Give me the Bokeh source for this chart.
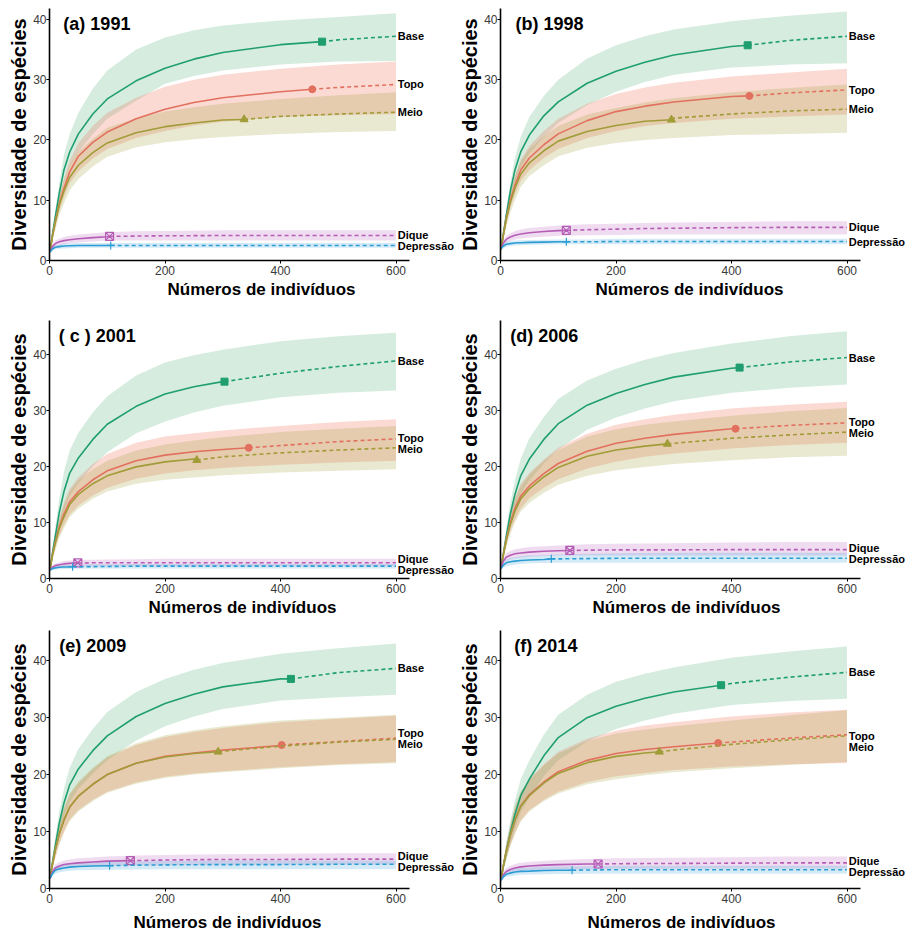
import numpy as np
from bokeh.plotting import figure
from bokeh.layouts import column, row
from bokeh.models import Range1d, Label, FixedTicker, Title
from bokeh.embed import file_html
from bokeh.resources import INLINE

# ---------------- data ----------------
X = [1, 5, 10, 17, 25, 35, 50, 75, 100, 150, 200, 250, 300, 400, 500, 600]
names = ["Base", "Topo", "Meio", "Dique", "Depressão"]
titles = ["(a) 1991", "(b) 1998", "( c ) 2001", "(d) 2006", "(e) 2009", "(f) 2014"]
x_ticks = [0, 200, 400, 600]
y_ticks = [0, 10, 20, 30, 40]

# (a) 1991  -- observed sample size / richness, in the order of names
a_obs_n = [472, 455, 337, 104, 106]
a_obs_s = [36.3, 28.4, 23.4, 4.0, 2.5]
a_base = [1.5, 4.3, 7.2, 11.2, 15, 18, 21, 24.3, 26.8, 29.8, 31.9, 33.4, 34.5, 35.8, 36.6, 37.2]
a_base_lo = [1.3, 3.8, 6.3, 9.6, 13, 15.6, 18, 21, 23.5, 26.5, 29.3, 30.6, 31.5, 32.5, 33, 33.1]
a_base_hi = [1.8, 4.9, 8.3, 12.8, 17.5, 21, 24.5, 28.5, 31.5, 35, 37, 38.2, 39, 39.8, 40.4, 41]
a_topo = [1.5, 4, 6.5, 9.5, 12, 14.7, 17.3, 19.6, 21.3, 23.5, 25.1, 26.2, 27, 28, 28.7, 29.2]
a_topo_lo = [1.3, 3.4, 5.5, 8.2, 10.5, 12.8, 14.8, 16.9, 18.5, 20.3, 21.5, 22.4, 23, 23.8, 24.1, 24.3]
a_topo_hi = [1.8, 4.6, 7.5, 10.8, 13.5, 16.6, 19.5, 22.3, 24.5, 27, 28.8, 30, 30.8, 31.8, 32.5, 33]
a_meio = [1.5, 4, 6.3, 9.2, 11.5, 13.8, 15.8, 17.9, 19.5, 21.2, 22.2, 22.8, 23.3, 23.9, 24.3, 24.6]
a_meio_lo = [1.2, 3.2, 5, 7.5, 9.5, 11.6, 13.5, 15.6, 17.2, 18.8, 19.6, 20.1, 20.5, 21, 21.3, 21.5]
a_meio_hi = [1.8, 4.7, 7.5, 10.7, 13.3, 15.8, 18, 20.2, 22, 23.6, 24.7, 25.4, 26, 26.8, 27.4, 27.9]
a_dique = [1.5, 2.3, 2.8, 3.1, 3.3, 3.45, 3.6, 3.8, 3.95, 4.05, 4.1, 4.12, 4.15, 4.15, 4.15, 4.15]
a_dique_lo = [1.3, 1.9, 2.3, 2.5, 2.7, 2.85, 3.0, 3.15, 3.3, 3.3, 3.3, 3.3, 3.3, 3.3, 3.3, 3.3]
a_dique_hi = [1.7, 2.7, 3.3, 3.6, 3.9, 4.1, 4.3, 4.5, 4.7, 4.85, 4.9, 4.95, 5.0, 5.0, 5.0, 5.0]
a_dep = [1.4, 1.9, 2.2, 2.3, 2.4, 2.45, 2.5, 2.5, 2.5, 2.5, 2.5, 2.5, 2.5, 2.5, 2.5, 2.5]
a_dep_lo = [1.2, 1.6, 1.9, 1.95, 2.0, 2.05, 2.1, 2.1, 2.1, 2.1, 2.1, 2.1, 2.1, 2.1, 2.1, 2.1]
a_dep_hi = [1.6, 2.2, 2.5, 2.65, 2.8, 2.85, 2.9, 2.9, 2.9, 2.9, 2.9, 2.9, 2.9, 2.9, 2.9, 2.9]

# (b) 1998
b_obs_n = [428, 431, 296, 114, 114]
b_obs_s = [35.7, 27.3, 23.35, 5.0, 3.1]
b_base = [1.8, 4.5, 7.5, 11.5, 15, 18, 20.8, 24, 26.3, 29.4, 31.4, 32.9, 34.1, 35.5, 36.5, 37.2]
b_base_lo = [1.5, 4, 6.5, 9.8, 13, 15.5, 17.8, 20.5, 22.8, 25.8, 28, 29.6, 30.8, 32, 32.5, 32.7]
b_base_hi = [2.1, 5.2, 8.5, 12.8, 17, 20.5, 23.8, 27.3, 30, 33.5, 35.7, 37.2, 38.3, 39.7, 40.6, 41.3]
b_topo = [1.8, 4.3, 7, 10, 12.5, 15, 17, 19.2, 21, 23.2, 24.7, 25.6, 26.3, 27.2, 27.8, 28.3]
b_topo_lo = [1.5, 3.7, 6, 8.8, 11, 13.2, 15, 17, 18.5, 20.3, 21.5, 22.3, 22.8, 23.5, 23.9, 24.2]
b_topo_hi = [2.1, 5, 8, 11.3, 14, 16.7, 19, 21.5, 23.5, 26, 27.6, 28.7, 29.5, 30.5, 31.2, 31.8]
b_meio = [1.8, 4.2, 6.8, 9.6, 12, 14.3, 16.2, 18.2, 19.8, 21.4, 22.4, 23.1, 23.6, 24.3, 24.8, 25.1]
b_meio_lo = [1.5, 3.4, 5.5, 7.9, 10, 12.2, 14, 15.8, 17.3, 18.7, 19.5, 20, 20.3, 20.8, 21, 21.2]
b_meio_hi = [2.1, 5, 8, 11.2, 14, 16.4, 18.5, 20.6, 22.3, 24.2, 25.3, 26.2, 26.9, 27.9, 28.6, 29.2]
b_dique = [2, 2.9, 3.5, 3.9, 4.2, 4.4, 4.6, 4.8, 4.95, 5.1, 5.2, 5.3, 5.35, 5.45, 5.5, 5.5]
b_dique_lo = [1.7, 2.4, 2.9, 3.2, 3.5, 3.65, 3.8, 3.95, 4.1, 4.2, 4.25, 4.3, 4.3, 4.3, 4.3, 4.3]
b_dique_hi = [2.3, 3.4, 4.1, 4.5, 4.9, 5.15, 5.4, 5.6, 5.8, 6.0, 6.1, 6.2, 6.3, 6.4, 6.5, 6.5]
b_dep = [2, 2.4, 2.7, 2.8, 2.9, 2.95, 3.0, 3.05, 3.1, 3.1, 3.15, 3.15, 3.15, 3.15, 3.15, 3.15]
b_dep_lo = [1.7, 2.0, 2.3, 2.4, 2.5, 2.55, 2.6, 2.65, 2.7, 2.7, 2.7, 2.7, 2.7, 2.7, 2.7, 2.7]
b_dep_hi = [2.3, 2.8, 3.1, 3.2, 3.3, 3.35, 3.4, 3.45, 3.5, 3.5, 3.6, 3.6, 3.6, 3.6, 3.6, 3.6]

# (c) 2001
c_obs_n = [303, 345, 255, 49, 40]
c_obs_s = [35.1, 23.3, 21.1, 2.8, 2.1]
c_base = [1.7, 4.5, 7.5, 11.8, 15.5, 18.8, 21.5, 24.8, 27.5, 30.7, 32.9, 34.2, 35.1, 36.6, 37.8, 38.8]
c_base_lo = [1.4, 3.7, 6, 9.2, 12, 14.8, 17, 20, 22.5, 25.9, 28, 29.6, 30.8, 32.3, 33.1, 33.5]
c_base_hi = [2, 5.3, 9, 14.2, 19, 22.8, 26, 29.6, 32.5, 36.2, 38.5, 39.8, 40.8, 42.3, 43.2, 43.8]
c_topo = [1.7, 4.2, 6.5, 9.3, 11.5, 13.7, 15.5, 17.6, 19.2, 21, 22, 22.6, 23, 23.7, 24.4, 24.9]
c_topo_lo = [1.4, 3.5, 5.5, 7.7, 9.5, 11.4, 13, 14.8, 16.2, 17.8, 18.7, 19.3, 19.7, 20.3, 20.7, 21]
c_topo_hi = [2, 4.8, 7.5, 10.8, 13.5, 16, 18, 20.4, 22.2, 24.2, 25.3, 25.9, 26.4, 27.2, 27.9, 28.4]
c_meio = [1.7, 4, 6.3, 8.9, 11, 13.2, 15, 16.9, 18.3, 19.9, 20.8, 21.3, 21.7, 22.4, 22.9, 23.3]
c_meio_lo = [1.4, 3.2, 5, 7.2, 9, 10.9, 12.5, 14.2, 15.5, 16.9, 17.6, 18, 18.4, 18.9, 19.2, 19.5]
c_meio_hi = [2, 4.8, 7.5, 10.5, 13, 15.5, 17.5, 19.5, 21, 22.8, 23.9, 24.6, 25.2, 26.1, 26.7, 27.2]
c_dique = [1.5, 2.0, 2.3, 2.45, 2.6, 2.7, 2.75, 2.8, 2.8, 2.8, 2.8, 2.8, 2.8, 2.8, 2.8, 2.8]
c_dique_lo = [1.3, 1.7, 1.9, 2.0, 2.1, 2.15, 2.2, 2.2, 2.2, 2.2, 2.2, 2.2, 2.2, 2.2, 2.2, 2.2]
c_dique_hi = [1.7, 2.3, 2.7, 2.9, 3.1, 3.2, 3.3, 3.35, 3.4, 3.45, 3.5, 3.5, 3.5, 3.5, 3.5, 3.5]
c_dep = [1.5, 1.75, 1.9, 2.0, 2.05, 2.08, 2.1, 2.12, 2.15, 2.2, 2.2, 2.2, 2.2, 2.2, 2.2, 2.2]
c_dep_lo = [1.3, 1.5, 1.6, 1.65, 1.7, 1.72, 1.75, 1.78, 1.8, 1.8, 1.8, 1.8, 1.8, 1.8, 1.8, 1.8]
c_dep_hi = [1.7, 2.0, 2.2, 2.3, 2.4, 2.45, 2.5, 2.52, 2.55, 2.6, 2.6, 2.6, 2.6, 2.6, 2.6, 2.6]

# (d) 2006
d_obs_n = [414, 407, 289, 120, 88]
d_obs_s = [37.6, 26.7, 24.0, 5.0, 3.5]
d_base = [1.8, 4.5, 7.5, 11.5, 15, 18.3, 21.3, 24.8, 27.6, 30.9, 33, 34.6, 35.9, 37.5, 38.6, 39.4]
d_base_lo = [1.5, 3.8, 6, 9.3, 12.5, 15.2, 17.5, 20.5, 23, 26.5, 28.7, 30.3, 31.6, 33.1, 34, 34.6]
d_base_hi = [2.1, 5.3, 9, 13.5, 17.5, 21.3, 25, 28.8, 32, 35.3, 37.4, 39, 40.2, 41.9, 43.2, 44.1]
d_topo = [1.8, 4.3, 7, 10, 12.5, 14.7, 16.5, 18.7, 20.5, 22.7, 24.1, 25, 25.7, 26.7, 27.3, 27.75]
d_topo_lo = [1.5, 3.7, 6, 8.5, 10.5, 12.5, 14.3, 16.2, 17.7, 19.6, 20.8, 21.7, 22.3, 23.2, 23.8, 24.2]
d_topo_hi = [2.1, 5, 8, 11.5, 14.5, 16.8, 18.8, 21.2, 23.3, 25.8, 27.4, 28.4, 29.2, 30.3, 31, 31.5]
d_meio = [1.8, 4.2, 6.8, 9.6, 12, 14.2, 16, 18.1, 19.8, 21.8, 22.9, 23.6, 24.1, 25, 25.6, 26.1]
d_meio_lo = [1.5, 3.4, 5.5, 7.9, 10, 11.9, 13.5, 15.3, 16.7, 18.3, 19.3, 19.9, 20.4, 21.1, 21.6, 21.9]
d_meio_hi = [2.1, 5, 8, 11.2, 14, 16.4, 18.5, 20.9, 22.9, 25.3, 26.6, 27.4, 28, 29, 29.8, 30.4]
d_dique = [2, 3.1, 3.8, 4.15, 4.4, 4.55, 4.7, 4.85, 4.95, 5.05, 5.1, 5.1, 5.1, 5.15, 5.15, 5.15]
d_dique_lo = [1.7, 2.6, 3.1, 3.4, 3.6, 3.75, 3.9, 4.0, 4.1, 4.1, 4.1, 4.1, 4.1, 4.1, 4.1, 4.1]
d_dique_hi = [2.3, 3.7, 4.5, 4.9, 5.2, 5.4, 5.6, 5.75, 5.9, 6.1, 6.2, 6.25, 6.3, 6.4, 6.5, 6.5]
d_dep = [1.8, 2.4, 2.8, 3.0, 3.1, 3.2, 3.3, 3.4, 3.5, 3.55, 3.6, 3.6, 3.6, 3.6, 3.6, 3.6]
d_dep_lo = [1.5, 1.9, 2.2, 2.35, 2.5, 2.6, 2.7, 2.75, 2.8, 2.8, 2.8, 2.8, 2.8, 2.8, 2.8, 2.8]
d_dep_hi = [2.1, 2.9, 3.4, 3.6, 3.8, 3.95, 4.1, 4.2, 4.3, 4.4, 4.5, 4.55, 4.6, 4.6, 4.6, 4.6]

# (e) 2009
e_obs_n = [418, 402, 292, 140, 104]
e_obs_s = [36.8, 25.2, 24.0, 4.9, 4.0]
e_base = [1.8, 4.5, 7.5, 11.5, 15, 18.2, 21, 24.2, 26.8, 30.2, 32.5, 34.1, 35.4, 36.8, 37.9, 38.65]
e_base_lo = [1.5, 3.8, 6, 9.3, 12.5, 15.2, 17.5, 20.2, 22.5, 26, 28.5, 30.2, 31.5, 33, 33.6, 34]
e_base_hi = [2.1, 5.3, 9, 13.5, 17.5, 21.2, 24.5, 28, 31, 34.5, 36.8, 38.4, 39.6, 41.2, 42.2, 43]
e_topo = [1.8, 4.2, 6.8, 9.6, 12, 14.3, 16.2, 18.3, 20, 22, 23.2, 23.8, 24.3, 25.1, 25.8, 26.4]
e_topo_lo = [1.5, 3.5, 5.5, 8, 10, 12.1, 13.8, 15.6, 17, 18.6, 19.6, 20.2, 20.6, 21.3, 21.8, 22.2]
e_topo_hi = [2.1, 4.9, 8, 11.2, 14, 16.5, 18.5, 21, 23, 25.2, 26.6, 27.5, 28.2, 29.2, 29.8, 30.35]
e_meio = [1.8, 4.2, 6.8, 9.6, 12, 14.3, 16.2, 18.3, 20, 22, 23.1, 23.7, 24.1, 25, 25.7, 26.2]
e_meio_lo = [1.5, 3.3, 5.3, 7.7, 9.8, 11.8, 13.5, 15.3, 16.8, 18.4, 19.4, 20, 20.4, 21.1, 21.7, 22.0]
e_meio_hi = [2.1, 5.1, 8.2, 11.4, 14.2, 16.7, 18.8, 21.2, 23.2, 25.5, 26.9, 27.8, 28.5, 29.5, 30.0, 30.5]
e_dique = [1.8, 2.9, 3.6, 3.95, 4.2, 4.35, 4.5, 4.65, 4.8, 4.9, 5.0, 5.05, 5.1, 5.1, 5.15, 5.15]
e_dique_lo = [1.5, 2.4, 3.0, 3.3, 3.5, 3.65, 3.8, 3.9, 4.0, 4.1, 4.1, 4.12, 4.15, 4.15, 4.2, 4.2]
e_dique_hi = [2.1, 3.4, 4.2, 4.6, 4.9, 5.1, 5.3, 5.45, 5.6, 5.8, 5.9, 5.95, 6.0, 6.1, 6.2, 6.2]
e_dep = [1.8, 2.6, 3.2, 3.45, 3.6, 3.75, 3.85, 3.95, 4.0, 4.1, 4.15, 4.18, 4.2, 4.2, 4.25, 4.25]
e_dep_lo = [1.5, 2.1, 2.6, 2.85, 3.0, 3.1, 3.2, 3.25, 3.3, 3.35, 3.4, 3.4, 3.4, 3.4, 3.4, 3.4]
e_dep_hi = [2.1, 3.1, 3.8, 4.1, 4.3, 4.45, 4.6, 4.65, 4.7, 4.8, 4.85, 4.88, 4.9, 4.9, 4.9, 4.9]

# (f) 2014
f_obs_n = [382, 377, 275, 169, 124]
f_obs_s = [35.7, 25.55, 24.0, 4.3, 3.2]
f_base = [1.5, 4, 6.5, 9.8, 13, 16.3, 19.2, 23.3, 26.5, 30, 32, 33.4, 34.5, 36, 37.1, 37.95]
f_base_lo = [1.2, 3.2, 5, 7.8, 10.5, 13.4, 16, 19.7, 22.5, 25.8, 28, 29.5, 30.7, 32.2, 32.9, 33.3]
f_base_hi = [1.8, 4.8, 8, 11.8, 15.5, 19.2, 22.5, 27, 30.5, 34, 36.3, 37.7, 38.8, 40.5, 41.6, 42.5]
f_topo = [1.5, 4, 6.5, 9.4, 12, 14.5, 16.5, 18.7, 20.5, 22.5, 23.7, 24.4, 24.9, 25.7, 26.4, 27.0]
f_topo_lo = [1.2, 3.3, 5.3, 7.7, 9.8, 12, 13.8, 15.6, 17, 18.7, 19.7, 20.3, 20.8, 21.4, 21.8, 22.05]
f_topo_hi = [1.8, 4.7, 7.7, 11, 14.2, 16.9, 19.2, 21.8, 24, 26.3, 27.7, 28.6, 29.2, 30.2, 30.9, 31.4]
f_meio = [1.5, 4, 6.5, 9.4, 12, 14.4, 16.3, 18.5, 20.2, 22.1, 23.2, 23.8, 24.3, 25.3, 26.1, 26.8]
f_meio_lo = [1.2, 3.2, 5.1, 7.4, 9.5, 11.7, 13.5, 15.3, 16.7, 18.3, 19.2, 19.9, 20.4, 21.1, 21.7, 22.2]
f_meio_hi = [1.8, 4.8, 7.9, 11.3, 14.5, 17, 19.1, 21.6, 23.7, 25.9, 27.2, 27.9, 28.5, 29.5, 30.4, 31.3]
f_dique = [1.5, 2.4, 3.0, 3.35, 3.6, 3.8, 3.95, 4.1, 4.2, 4.3, 4.35, 4.38, 4.4, 4.45, 4.5, 4.5]
f_dique_lo = [1.2, 1.9, 2.4, 2.7, 2.9, 3.05, 3.2, 3.3, 3.4, 3.4, 3.45, 3.45, 3.45, 3.5, 3.5, 3.5]
f_dique_hi = [1.8, 2.9, 3.6, 4.0, 4.3, 4.5, 4.7, 4.85, 5.0, 5.2, 5.3, 5.35, 5.4, 5.5, 5.6, 5.6]
f_dep = [1.5, 2.1, 2.5, 2.7, 2.9, 3.0, 3.05, 3.15, 3.2, 3.25, 3.3, 3.3, 3.3, 3.3, 3.3, 3.3]
f_dep_lo = [1.2, 1.7, 2.0, 2.15, 2.3, 2.4, 2.45, 2.5, 2.55, 2.6, 2.6, 2.6, 2.6, 2.6, 2.6, 2.6]
f_dep_hi = [1.8, 2.5, 3.0, 3.25, 3.5, 3.6, 3.7, 3.8, 3.85, 3.9, 4.0, 4.0, 4.0, 4.0, 4.0, 4.0]

# ---------------- styling ----------------
line_colors = ["#1f9e70", "#e2705f", "#a09c38", "#b55db5", "#2b9dd3"]
fill_colors = ["#2ca25f", "#f07a62", "#a39d3c", "#c77cc9", "#4aa8dc"]
fill_alphas = [0.2, 0.28, 0.24, 0.27, 0.24]
markers = ["square", "circle", "triangle", "square_x", "cross"]
FONT = "Liberation Sans"

panels = [
    (a_obs_n, a_obs_s, [(a_base, a_base_lo, a_base_hi), (a_topo, a_topo_lo, a_topo_hi), (a_meio, a_meio_lo, a_meio_hi), (a_dique, a_dique_lo, a_dique_hi), (a_dep, a_dep_lo, a_dep_hi)]),
    (b_obs_n, b_obs_s, [(b_base, b_base_lo, b_base_hi), (b_topo, b_topo_lo, b_topo_hi), (b_meio, b_meio_lo, b_meio_hi), (b_dique, b_dique_lo, b_dique_hi), (b_dep, b_dep_lo, b_dep_hi)]),
    (c_obs_n, c_obs_s, [(c_base, c_base_lo, c_base_hi), (c_topo, c_topo_lo, c_topo_hi), (c_meio, c_meio_lo, c_meio_hi), (c_dique, c_dique_lo, c_dique_hi), (c_dep, c_dep_lo, c_dep_hi)]),
    (d_obs_n, d_obs_s, [(d_base, d_base_lo, d_base_hi), (d_topo, d_topo_lo, d_topo_hi), (d_meio, d_meio_lo, d_meio_hi), (d_dique, d_dique_lo, d_dique_hi), (d_dep, d_dep_lo, d_dep_hi)]),
    (e_obs_n, e_obs_s, [(e_base, e_base_lo, e_base_hi), (e_topo, e_topo_lo, e_topo_hi), (e_meio, e_meio_lo, e_meio_hi), (e_dique, e_dique_lo, e_dique_hi), (e_dep, e_dep_lo, e_dep_hi)]),
    (f_obs_n, f_obs_s, [(f_base, f_base_lo, f_base_hi), (f_topo, f_topo_lo, f_topo_hi), (f_meio, f_meio_lo, f_meio_hi), (f_dique, f_dique_lo, f_dique_hi), (f_dep, f_dep_lo, f_dep_hi)]),
]

PX_PER_X = 0.5775          # horizontal scale, pixels per individual
AXIS_END = 624             # x-axis line ends a little after 600
# rows: (y max, frame height, border top, border bottom, x-title standoff)
row_geom = [(41.8, 252, 8, 40, 0), (46.0, 258, 20, 42, 1), (45.3, 258, 10, 50, 10)]
# columns: (border left, frame width)
col_geom = [(49, 406), (45, 414)]
title_x = [24, 26, 16, 17, 17, 24]
# horizontal start of the x-axis title, pixels from the frame's left edge
xlabel_left = [118, 95, 99, 92, 84, 87]
# per-panel vertical nudges of the (Topo, Meio) end labels, pixels
label_nudge = [(0, 0), (0, 0), (0, 0), (0, 0), (0, 0), (-6, -6)]


def make_panel(i):
    r, c = divmod(i, 2)
    ymax, fh, bt, bb, xstand = row_geom[r]
    bl, fw = col_geom[c]
    xmax = fw / PX_PER_X
    obs_n, obs_s, series = panels[i]
    p = figure(frame_width=fw, frame_height=fh,
               min_border_left=bl, min_border_right=0,
               min_border_top=bt, min_border_bottom=bb,
               x_range=Range1d(0, xmax), y_range=Range1d(0, ymax),
               output_backend="svg", toolbar_location=None)
    p.outline_line_color = None
    p.grid.visible = False
    p.background_fill_color = "white"
    p.border_fill_color = "white"

    xs = np.array(X, dtype=float)
    for k in range(5):
        m, lo, hi = series[k]
        p.varea(x=xs, y1=lo, y2=hi, fill_color=fill_colors[k], fill_alpha=fill_alphas[k])
    for k in range(5):
        m, lo, hi = series[k]
        n, s = obs_n[k], obs_s[k]
        mm = np.array(m, dtype=float)
        sx = list(xs[xs < n]) + [n]
        sy = list(mm[xs < n]) + [s]
        dx = [n] + list(xs[xs > n])
        dy = [s] + list(mm[xs > n])
        p.line(sx, sy, line_color=line_colors[k], line_width=1.6)
        p.line(dx, dy, line_color=line_colors[k], line_width=1.6, line_dash="4 3")
        if markers[k] in ("square_x", "cross"):
            p.scatter([n], [s], marker=markers[k], size=8, line_color=line_colors[k],
                      fill_alpha=0, line_width=1.2)
        else:
            p.scatter([n], [s], marker=markers[k], size=7 if k != 2 else 8,
                      color=line_colors[k])

    # series labels at the right end, nudged apart when crowded
    ppu = fh / ymax
    ends = [series[k][0][-1] for k in range(5)]
    order = sorted(range(5), key=lambda k: ends[k])
    pos = {k: ends[k] * ppu for k in range(5)}
    gap = 11.0
    for _ in range(3):
        for a_, b_ in zip(order[:-1], order[1:]):
            d = pos[b_] - pos[a_]
            if d < gap:
                sh = (gap - d) / 2
                pos[a_] -= sh
                pos[b_] += sh
    pos[1] += label_nudge[i][0]
    pos[2] += label_nudge[i][1]
    for k in range(5):
        p.add_layout(Label(x=603, y=pos[k] / ppu, text=names[k], x_offset=0,
                           text_baseline="middle", text_align="left",
                           text_font=FONT, text_font_style="bold",
                           text_font_size="11px", text_color="black"))

    # panel title
    p.add_layout(Label(x=title_x[i], y=ymax, y_offset=-5, text=titles[i], text_baseline="top",
                       text_font=FONT, text_font_style="bold", text_font_size="18px",
                       text_color="black"))

    for ax in (p.xaxis[0], p.yaxis[0]):
        ax.axis_line_color = "black"
        ax.axis_line_width = 1.6
        ax.major_tick_line_color = "black"
        ax.major_tick_out = 3
        ax.major_tick_in = 0
        ax.minor_tick_line_color = None
        ax.major_label_text_font = FONT
        ax.major_label_text_font_size = "12px"
        ax.major_label_text_color = "#3a3a3a"
    p.xaxis.major_label_standoff = 2
    p.yaxis.major_label_standoff = 0
    p.xaxis.bounds = (0, AXIS_END)
    p.xaxis.ticker = FixedTicker(ticks=x_ticks)
    p.yaxis.ticker = FixedTicker(ticks=y_ticks)
    p.yaxis.axis_label = "Diversidade de espécies"
    p.yaxis.axis_label_text_font = FONT
    p.yaxis.axis_label_text_font_style = "bold"
    p.yaxis.axis_label_text_font_size = "20px"
    p.yaxis.axis_label_text_color = "black"
    p.yaxis.axis_label_standoff = 0
    p.add_layout(Title(text="Números de indivíduos", align="left", offset=xlabel_left[i],
                       standoff=xstand, text_font=FONT, text_font_style="bold",
                       text_font_size="17px", text_color="black"), "below")
    return p


figs = [make_panel(i) for i in range(6)]
layout = column(row(figs[0], figs[1], spacing=0), row(figs[2], figs[3], spacing=0),
                row(figs[4], figs[5], spacing=0), spacing=0)

open("out.html", "w").write(file_html(layout, INLINE))
